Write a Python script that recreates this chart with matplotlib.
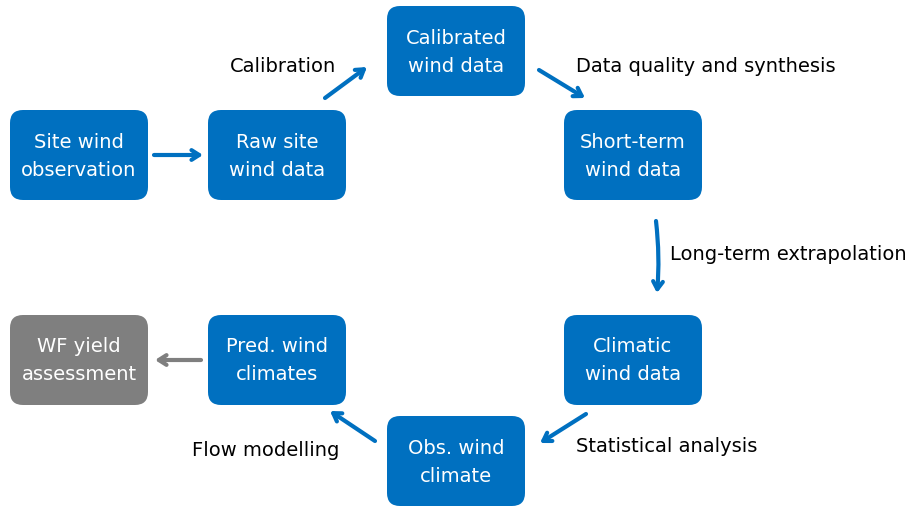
import matplotlib
matplotlib.use("Agg")
import matplotlib.pyplot as plt
from matplotlib.patches import FancyBboxPatch

# node labels (in flow order)
node_labels = [
    "Site wind\nobservation",
    "Raw site\nwind data",
    "Calibrated\nwind data",
    "Short-term\nwind data",
    "Climatic\nwind data",
    "Obs. wind\nclimate",
    "Pred. wind\nclimates",
    "WF yield\nassessment",
]
step_labels = ["Calibration", "Data quality and synthesis", "Long-term extrapolation",
               "Statistical analysis", "Flow modelling"]

# layout (pixel coordinates, y downwards)
node_xy = [(10, 110), (208, 110), (387, 6), (564, 110),
           (564, 315), (387, 416), (208, 315), (10, 315)]
node_w, node_h = 138, 90
node_colors = ["#0070c0"] * 7 + ["#7f7f7f"]

arrows = [
    ((154, 155), (203, 155), 0.0, "#0070c0"),
    ((325, 98), (367, 67), 0.0, "#0070c0"),
    ((539, 70), (585, 98), 0.0, "#0070c0"),
    ((656, 221), (657, 293), -0.05, "#0070c0"),
    ((586, 414), (540, 443), 0.0, "#0070c0"),
    ((375, 441), (330, 411), 0.0, "#0070c0"),
    ((201, 360), (155, 360), 0.0, "#7f7f7f"),
]
step_pos = [(230, 67, "left"), (576, 67, "left"), (670, 255, "left"),
            (576, 446, "left"), (339, 451, "right")]

fig = plt.figure(figsize=(9.12, 5.07), dpi=100)
ax = fig.add_axes([0, 0, 1, 1])
ax.set_xlim(0, 912)
ax.set_ylim(507, 0)
ax.axis("off")

for label, (x, y), c in zip(node_labels, node_xy, node_colors):
    box = FancyBboxPatch((x, y), node_w, node_h,
                         boxstyle="round,pad=0,rounding_size=13",
                         facecolor=c, edgecolor="none")
    ax.add_patch(box)
    ax.text(x + node_w / 2, y + node_h / 2 + 1, label, color="white",
            fontsize=14, ha="center", va="center", linespacing=1.6)

for (start, end, rad, c) in arrows:
    ax.annotate("", xy=end, xytext=start,
                arrowprops=dict(arrowstyle="->,head_length=0.55,head_width=0.35",
                                color=c, lw=3.0,
                                connectionstyle=f"arc3,rad={rad}",
                                shrinkA=0, shrinkB=0))

for text, (x, y, ha) in zip(step_labels, step_pos):
    ax.text(x, y, text, fontsize=14, ha=ha, va="center", color="black")

fig.savefig("out.png", dpi=100)
